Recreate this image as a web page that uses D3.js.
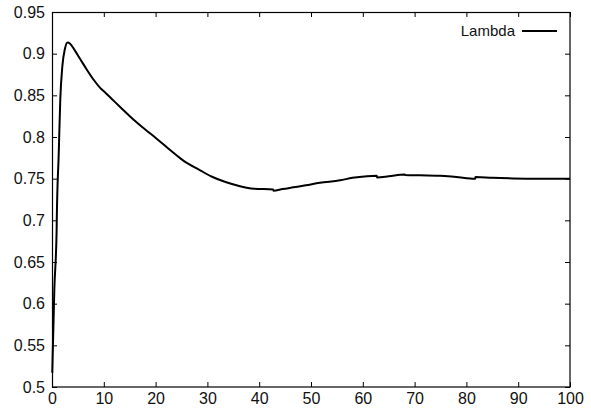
<!DOCTYPE html>
<html>
<head>
<meta charset="utf-8">
<script src="https://cdn.jsdelivr.net/npm/d3@7"></script>
<style>
  body { margin: 0; background: #fff; }
  text { font-family: "Liberation Sans", Arial, sans-serif; }
</style>
</head>
<body>
<div id="chart"></div>
<script>
var width = 591,
    height = 413,
    margin = {left: 52, top: 12, right: 21, bottom: 26};

// time vs lambda (pairs with equal-ish t are the small jumps)
var tValues = [0.05, 0.45, 0.9, 0.92, 1.3, 1.6, 2.0, 2.5, 3.0, 3.5, 4.4, 5.5, 6.7, 8.0, 9.3, 10.5,
  11.5, 13.5, 15.7, 18, 20.2, 22.5, 25.3, 28.6, 31, 33.5, 36.3, 39, 42.7, 42.75, 44.5, 46.6,
  49, 51.7, 55.6, 58, 60.8, 62.7, 62.75, 65, 68.1, 68.15, 71, 74.9, 78, 81.7, 81.75, 85, 89, 94, 100];
var lambdaValues = [0.517, 0.617, 0.69, 0.70, 0.78, 0.845, 0.885, 0.906, 0.9135, 0.912, 0.904, 0.893, 0.881, 0.869, 0.859, 0.852,
  0.846, 0.834, 0.821, 0.809, 0.798, 0.786, 0.772, 0.760, 0.752, 0.746, 0.741, 0.738, 0.737, 0.7355, 0.7375, 0.7396,
  0.742, 0.745, 0.748, 0.751, 0.753, 0.7535, 0.7515, 0.7528, 0.755, 0.7545, 0.754, 0.7535, 0.752, 0.750, 0.752, 0.751, 0.7503, 0.750, 0.750];
var xTicks = [0, 10, 20, 30, 40, 50, 60, 70, 80, 90, 100];
var yTicks = [0.5, 0.55, 0.6, 0.65, 0.7, 0.75, 0.8, 0.85, 0.9, 0.95];
var seriesName = "Lambda";

var data = tValues.map(function(t, i) { return {t: t, v: lambdaValues[i]}; });

var svg = d3.select("#chart").append("svg")
    .attr("width", width)
    .attr("height", height);

var x = d3.scaleLinear().domain([0, 100]).range([margin.left, width - margin.right]);
var y = d3.scaleLinear().domain([0.5, 0.95]).range([height - margin.bottom, margin.top]);

var fontSize = "16px";

// bottom axis, ticks pointing inward
var xAxis = svg.append("g")
    .attr("transform", "translate(0," + (height - margin.bottom) + ")")
    .call(d3.axisBottom(x).tickValues(xTicks).tickSizeInner(-5).tickSizeOuter(0).tickPadding(6)
      .tickFormat(d3.format("d")));
var yAxis = svg.append("g")
    .attr("transform", "translate(" + margin.left + ",0)")
    .call(d3.axisLeft(y).tickValues(yTicks).tickSizeInner(-5).tickSizeOuter(0).tickPadding(7)
      .tickFormat(function(d) { return String(+d.toFixed(2)); }));
// mirrored ticks on top and right
var xTop = svg.append("g")
    .attr("transform", "translate(0," + margin.top + ")")
    .call(d3.axisTop(x).tickValues(xTicks).tickSizeInner(-5).tickSizeOuter(0).tickFormat(""));
var yRight = svg.append("g")
    .attr("transform", "translate(" + (width - margin.right) + ",0)")
    .call(d3.axisRight(y).tickValues(yTicks).tickSizeInner(-5).tickSizeOuter(0).tickFormat(""));

[xAxis, yAxis, xTop, yRight].forEach(function(g) {
  g.select(".domain").remove();
  g.selectAll("line").attr("stroke", "#000").attr("stroke-width", 1);
  g.selectAll("text").attr("fill", "#111").style("font-size", fontSize)
    .style("font-family", "'Liberation Sans', Arial, sans-serif");
});

// frame
svg.append("rect")
    .attr("x", margin.left + 0.5)
    .attr("y", margin.top + 0.5)
    .attr("width", width - margin.left - margin.right - 0.5)
    .attr("height", height - margin.top - margin.bottom - 0.5)
    .attr("fill", "none")
    .attr("stroke", "#000")
    .attr("stroke-width", 1.2);

var line = d3.line()
    .x(function(d) { return x(d.t); })
    .y(function(d) { return y(d.v); })
    .curve(d3.curveMonotoneX);

svg.append("path")
    .datum(data)
    .attr("fill", "none")
    .attr("stroke", "#000")
    .attr("stroke-width", 2)
    .attr("d", line);

// legend
var legend = svg.append("g").attr("transform", "translate(516,31)");
legend.append("text")
    .attr("x", -1)
    .attr("y", 0)
    .attr("dy", "0.35em")
    .attr("text-anchor", "end")
    .style("font-size", "15px")
    .attr("fill", "#111")
    .text(seriesName);
legend.append("line")
    .attr("x1", 6).attr("x2", 41)
    .attr("y1", 0).attr("y2", 0)
    .attr("stroke", "#000")
    .attr("stroke-width", 2);
</script>
</body>
</html>
